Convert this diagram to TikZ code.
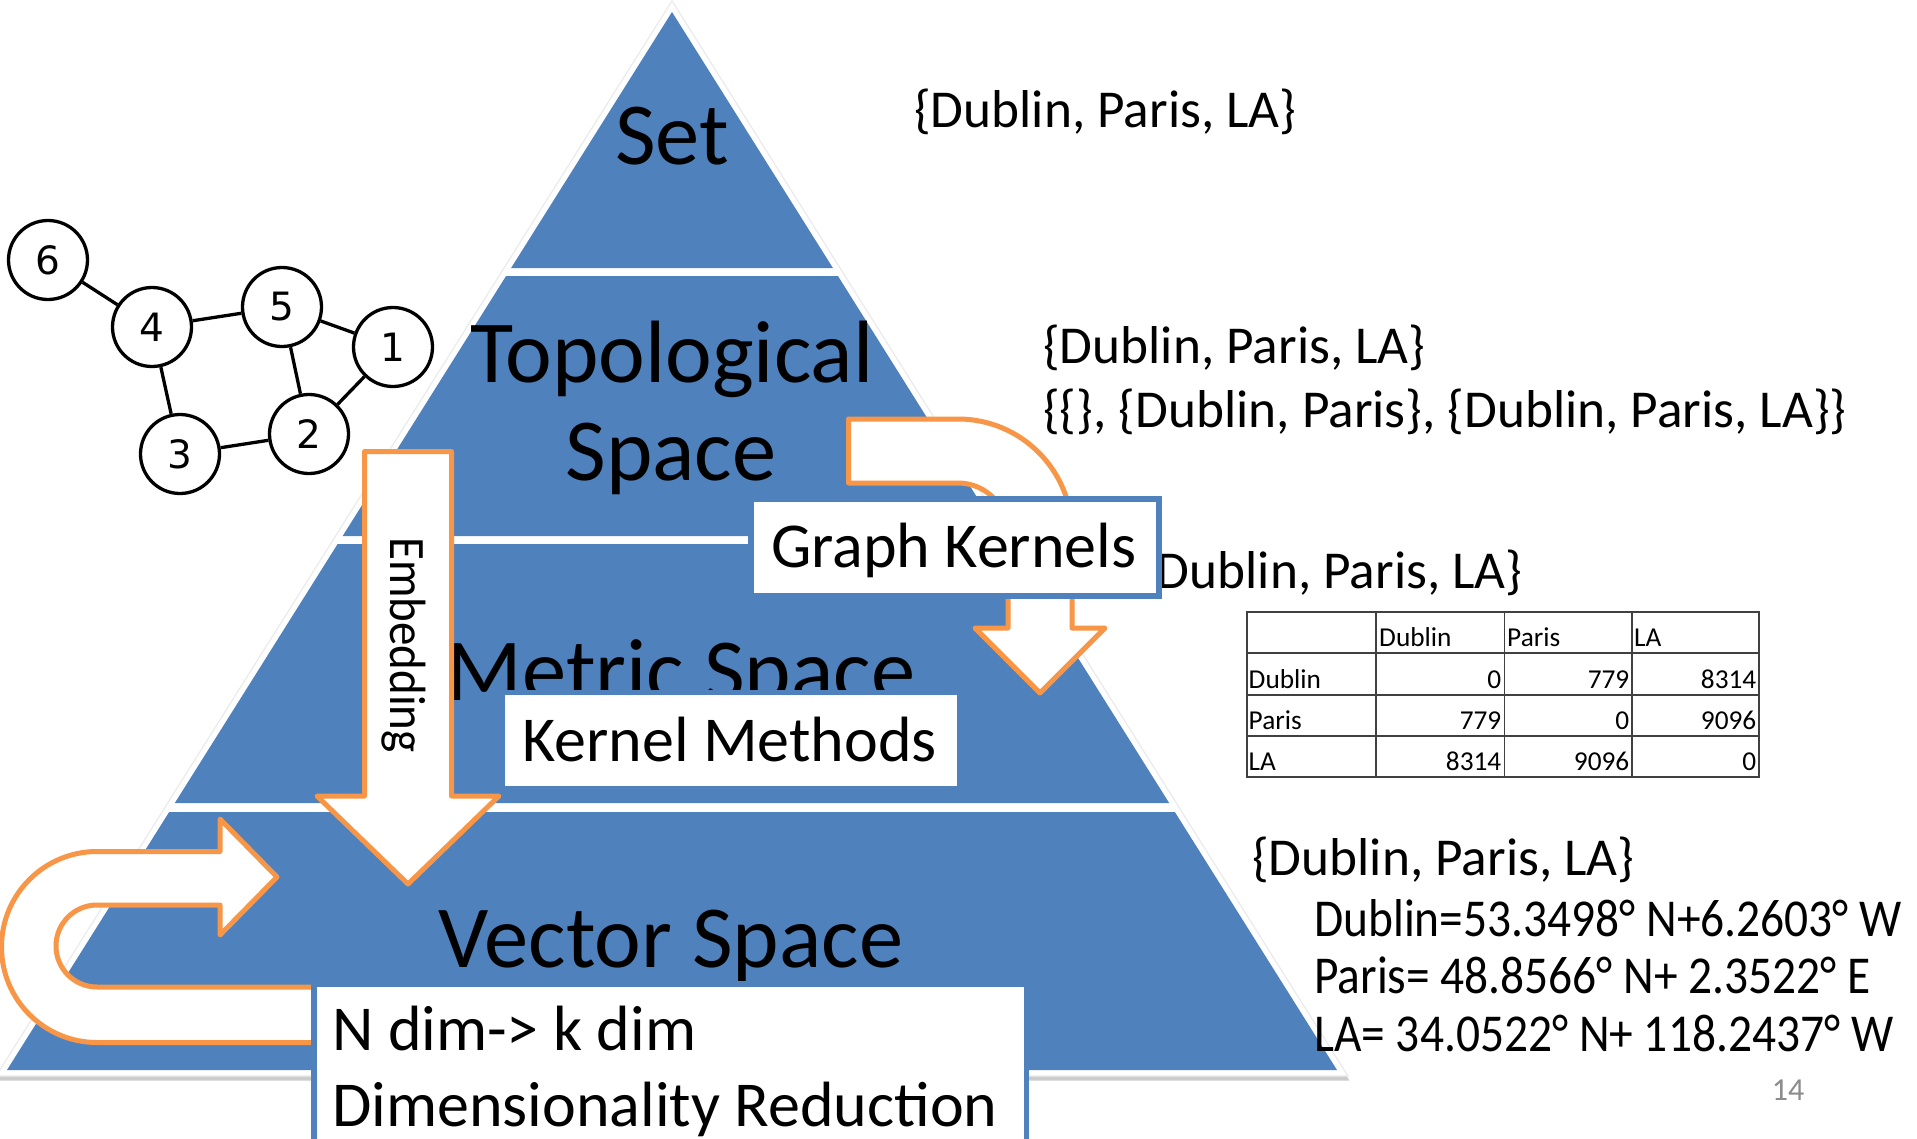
\documentclass[tikz,border=0pt]{standalone}
\usepackage{fontspec}
\usepackage{graphicx}
\setmainfont{Carlito}
\newfontfamily\graphfont{DejaVu Sans}

\definecolor{layerblue}{HTML}{4F81BD}
\definecolor{arroworange}{HTML}{F79646}
\definecolor{gridgray}{HTML}{404040}
\definecolor{pagegray}{HTML}{8C8C8C}

\tikzset{
  layer/.style={fill=layerblue},
  layertitle/.style={font=\fontsize{88.5}{100}\selectfont, anchor=base, inner sep=0},
  settext/.style={font=\fontsize{53.3}{64}\selectfont, anchor=base west, inner sep=0},
  labelbox/.style={rectangle, draw=layerblue, fill=white, inner sep=0},
  boxtext/.style={font=\fontsize{64}{76}\selectfont, anchor=base west, inner sep=0},
  blockarrow/.style={draw=arroworange, fill=white, line width=5, line join=round},
  gnode/.style={circle, draw=black, fill=white, line width=3.3, minimum size=79,
    inner sep=0, font=\graphfont\fontsize{39}{40}\selectfont},
  gedge/.style={draw=black, line width=3.3},
  cell/.style={font=\fontsize{27.3}{30}\selectfont, inner sep=0},
  gridline/.style={draw=gridgray, line width=1.7},
}

% one horizontal band of the pyramid, between the heights #1 and #2
\newcommand{\pyrband}[2]{%
  \fill[layer] ({672-0.62854*(#1-12)},#1) -- ({672+0.62854*(#1-12)},#1)
    -- ({672+0.62854*(#2-12)},#2) -- ({672-0.62854*(#2-12)},#2) -- cycle;}
% condensed setting of the coordinate lines
\newcommand{\narrow}[1]{\scalebox{0.89}[1]{#1}}

\begin{document}
\begin{tikzpicture}[x=1pt,y=-1pt]
\useasboundingbox (0,0) rectangle (1917,1138);
\fill[white] (0,0) rectangle (1917,1138);

% pyramid: shadow, white rim, four bands
\fill[black!20] (673.5,5.2) -- (1349.4,1080.5) -- (-2.4,1080.5) -- cycle;
\filldraw[fill=white, draw=black!8, line width=1.2] (672,0.7) -- (1347.9,1076) -- (-3.9,1076) -- cycle;
\pyrband{12}{268}
\pyrband{276}{536}
\pyrband{544}{803}
\pyrband{812}{1070}

\node[layertitle] (set) at (672,164) {Set};
\node[layertitle] (topo) at (672,382) {Topological};
\node[layertitle] (topospace) at (671,480) {Space};
\node[layertitle] (metric) at (681,700) {Metric Space};
\node[layertitle] (vector) at (671,967) {Vector Space};

% example graph
\node[gnode] (n6) at (48,260) {6};
\node[gnode] (n4) at (152,327) {4};
\node[gnode] (n5) at (282,307) {5};
\node[gnode] (n1) at (393,347) {1};
\node[gnode] (n2) at (309,434) {2};
\node[gnode] (n3) at (180,454) {3};
\draw[gedge] (n6) -- (n4);
\draw[gedge] (n4) -- (n5);
\draw[gedge] (n5) -- (n1);
\draw[gedge] (n5) -- (n2);
\draw[gedge] (n1) -- (n2);
\draw[gedge] (n4) -- (n3);
\draw[gedge] (n3) -- (n2);

% examples for each level
\node[settext] (setex) at (914,127) {\{Dublin, Paris, LA\}};
\node[settext] (topoex) at (1043,363) {\{Dublin, Paris, LA\}};
\node[settext] (topoopen) at (1043,427) {\{\{\}, \{Dublin, Paris\}, \{Dublin, Paris, LA\}\}};
\node[settext] (metricex) at (1140,588) {\{Dublin, Paris, LA\}};
\node[settext] (vectorex) at (1252,875) {\{Dublin, Paris, LA\}};
\node[settext] (coordd) at (1314,936) {\narrow{Dublin=53.3498° N+6.2603° W}};
\node[settext] (coordp) at (1314,993.5) {\narrow{Paris= 48.8566° N+ 2.3522° E}};
\node[settext] (coordl) at (1314,1051) {\narrow{LA= 34.0522° N+ 118.2437° W}};

% distance table
\draw[gridline] (1247,612) rectangle (1759,777);
\foreach \x in {1376,1504.5,1632} \draw[gridline] (\x,612) -- (\x,777);
\foreach \y in {653,695,736} \draw[gridline] (1247,\y) -- (1759,\y);
\node[cell, anchor=base west] (hdub) at (1379,646.5) {Dublin};
\node[cell, anchor=base west] (hpar) at (1507,646.5) {Paris};
\node[cell, anchor=base west] (hla) at (1634,646.5) {LA};
\node[cell, anchor=base west] (rdub) at (1248.5,688) {Dublin};
\node[cell, anchor=base west] (rpar) at (1248.5,729.5) {Paris};
\node[cell, anchor=base west] (rla) at (1248.5,770.5) {LA};
\node[cell, anchor=base east] (d11) at (1501.5,688) {0};
\node[cell, anchor=base east] (d12) at (1629.5,688) {779};
\node[cell, anchor=base east] (d13) at (1756.5,688) {8314};
\node[cell, anchor=base east] (d21) at (1501.5,729.5) {779};
\node[cell, anchor=base east] (d22) at (1629.5,729.5) {0};
\node[cell, anchor=base east] (d23) at (1756.5,729.5) {9096};
\node[cell, anchor=base east] (d31) at (1501.5,770.5) {8314};
\node[cell, anchor=base east] (d32) at (1629.5,770.5) {9096};
\node[cell, anchor=base east] (d33) at (1756.5,770.5) {0};

\node[font=\fontsize{32}{36}\selectfont, text=pagegray, anchor=base, inner sep=0] (pagenum) at (1788,1100) {14};

% embedding arrow
\draw[blockarrow] (364.5,451.5) -- (451.5,451.5) -- (451.5,796) -- (499,796)
  -- (408,884) -- (317,796) -- (364.5,796) -- cycle;
\node[font=\fontsize{51}{60}\selectfont, rotate=-90, anchor=base, inner sep=0] (emb)
  at (390,645) {\scalebox{0.92}[1]{Embedding}};

% graph kernels u-turn arrow
\draw[blockarrow] (848.5,419) -- (958,419) arc[start angle=-90, end angle=0, radius=114]
  -- (1072,628) -- (1105,628) -- (1040,693) -- (975,628) -- (1008,628) -- (1008,533)
  arc[start angle=0, end angle=-90, radius=50] -- (848.5,483) -- cycle;

% dimensionality reduction u-turn arrow
\draw[blockarrow] (277,877) -- (220,935) -- (220,905) -- (97,905)
  arc[start angle=-90, end angle=-270, radius=41] -- (330,987) -- (330,1042.5)
  -- (97,1042.5) arc[start angle=90, end angle=270, radius=95.5] -- (220,851.5)
  -- (220,819) -- cycle;

% method boxes
\node[labelbox, line width=6, minimum width=408, minimum height=97] (gk) at (955,547.5) {};
\node[boxtext] (gktext) at (771,567) {Graph Kernels};
\node[labelbox, line width=5, minimum width=456.5, minimum height=96] (km) at (730.8,740) {};
\node[boxtext] (kmtext) at (522,761) {Kernel Methods};
\node[labelbox, line width=5.5, minimum width=712.5, minimum height=219, anchor=north west] (dr) at (311.2,981.2) {};
\node[boxtext] (drtext1) at (332,1050) {N dim-> k dim};
\node[boxtext] (drtext2) at (332,1126) {Dimensionality Reduction};
\end{tikzpicture}
\end{document}
